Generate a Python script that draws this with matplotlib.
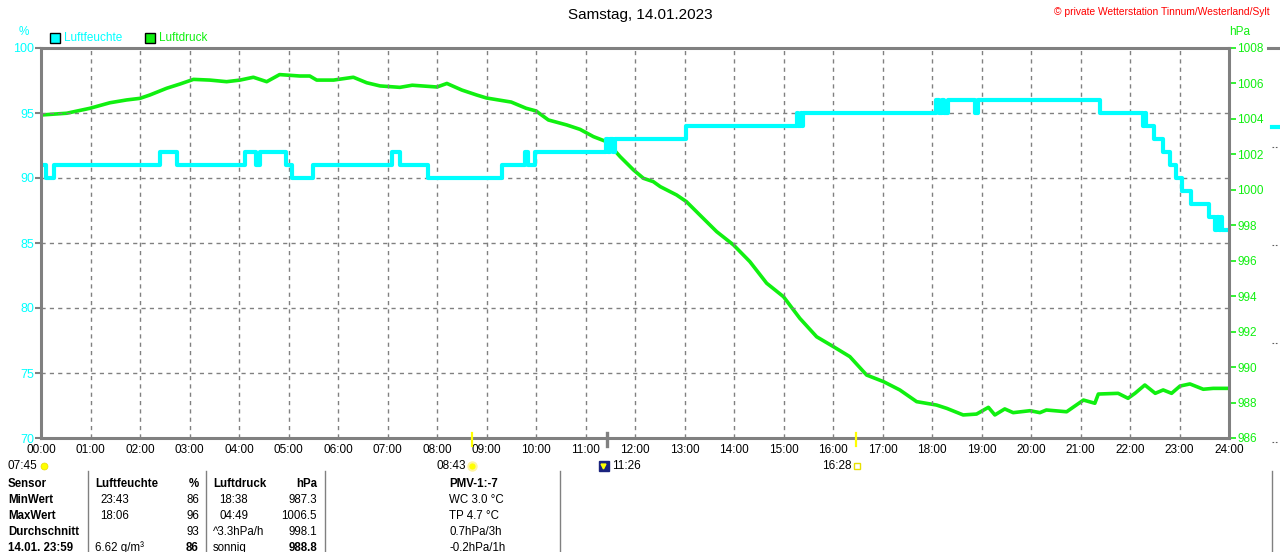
import matplotlib.pyplot as plt
import matplotlib.transforms as mtransforms
from matplotlib.patches import Rectangle
from matplotlib.lines import Line2D

plt.rcParams['font.family'] = ['Liberation Sans', 'DejaVu Sans']

W, H = 1280, 552

# Luftfeuchte in %, Stufenwerte (Stunde, Wert)
hum_t = [0.00, 0.10, 0.26, 2.40, 2.74, 4.12, 4.34, 4.42, 4.95, 5.08, 5.49,
         7.10, 7.25, 7.82, 9.31, 9.78, 9.84, 9.98, 11.41, 11.45, 11.50, 11.55,
         11.60, 13.04, 15.27, 15.30, 15.35, 15.37, 15.39, 18.09, 18.15, 18.20,
         18.25, 18.32, 18.87, 18.93, 21.39, 22.26, 22.30, 22.33, 22.48, 22.66,
         22.81, 22.93, 23.05, 23.23, 23.59, 23.72, 23.76, 23.80, 23.84, 23.86,
         24.00]
hum_v = [91, 90, 91, 92, 91, 92, 91, 92, 91, 90, 91,
         92, 91, 90, 91, 92, 91, 92, 93, 92, 93, 92,
         93, 94, 95, 94, 95, 94, 95, 96, 95, 96,
         95, 96, 95, 96, 95, 94, 95, 94, 93, 92,
         91, 90, 89, 88, 87, 86, 87, 86, 87, 86,
         86]

# Luftdruck in hPa
pres_t = [0.00, 0.52, 0.99, 1.39, 1.73, 2.00, 2.20, 2.54, 2.81, 3.08, 3.41,
          3.75, 4.02, 4.29, 4.56, 4.82, 5.23, 5.43, 5.57, 5.91, 6.31, 6.58,
          6.85, 7.25, 7.50, 8.00, 8.20, 8.50, 8.80, 9.00, 9.50, 9.80, 10.00,
          10.25, 10.62, 10.89, 11.16, 11.43, 11.70, 11.97, 12.17, 12.37, 12.51,
          12.84, 13.04, 13.31, 13.65, 13.99, 14.32, 14.66, 15.00, 15.33, 15.67,
          16.01, 16.34, 16.68, 17.02, 17.35, 17.69, 18.09, 18.30, 18.63, 18.90,
          19.14, 19.27, 19.47, 19.64, 19.98, 20.18, 20.31, 20.72, 21.06, 21.29,
          21.36, 21.76, 21.96, 22.10, 22.30, 22.51, 22.67, 22.84, 23.01, 23.21,
          23.48, 23.68, 24.00]
pres_v = [1004.22, 1004.32, 1004.60, 1004.91, 1005.07, 1005.16, 1005.35,
          1005.73, 1005.97, 1006.23, 1006.19, 1006.10, 1006.19, 1006.35,
          1006.10, 1006.50, 1006.42, 1006.42, 1006.19, 1006.19, 1006.35,
          1006.04, 1005.86, 1005.78, 1005.90, 1005.80, 1006.00, 1005.63,
          1005.35, 1005.18, 1004.95, 1004.60, 1004.45, 1003.94, 1003.66,
          1003.41, 1003.00, 1002.71, 1001.87, 1001.12, 1000.65, 1000.46,
          1000.18, 999.71, 999.33, 998.58, 997.64, 996.89, 995.95, 994.73,
          993.97, 992.75, 991.71, 991.15, 990.59, 989.55, 989.18, 988.71,
          988.05, 987.86, 987.67, 987.30, 987.35, 987.73, 987.30, 987.64,
          987.43, 987.54, 987.43, 987.58, 987.48, 988.14, 987.96, 988.48,
          988.52, 988.24, 988.52, 988.99, 988.52, 988.71, 988.52, 988.93,
          989.05, 988.75, 988.80, 988.80]

hours = list(range(25))
hour_labels = [f"{h:02d}:00" for h in hours]
hum_ticks = [70, 75, 80, 85, 90, 95, 100]
pres_ticks = list(range(986, 1009, 2))

sunrise_lbl = "07:45"
event_t = [8 + 43 / 60, 11 + 26 / 60, 16 + 28 / 60]
event_lbl = ["08:43", "11:26", "16:28"]

# Tabelle unten
row_lbl = ["Sensor", "MinWert", "MaxWert", "Durchschnitt", "14.01. 23:59"]
hum_a = ["Luftfeuchte", "23:43", "18:06", "", "6.62 g/m³"]
hum_b = ["%", "86", "96", "93", "86"]
pres_a = ["Luftdruck", "18:38", "04:49", "^3.3hPa/h", "sonnig"]
pres_b = ["hPa", "987.3", "1006.5", "998.1", "988.8"]
extra = ["PMV-1:-7", "WC 3.0 °C", "TP 4.7 °C", "0.7hPa/3h", "-0.2hPa/1h"]

CYAN = '#00ffff'
GREEN = '#10f010'
GRAY = '#808080'


def fx(px):
    return px / W


def fy(py):
    return 1 - py / H


fig = plt.figure(figsize=(12.8, 5.52), dpi=100)
ax = fig.add_axes([fx(41), fy(438), (1229 - 41) / W, 390 / H])
ax2 = ax.twinx()

ax2.plot(pres_t, pres_v, color=GREEN, lw=2.6, solid_joinstyle='round')
ax.step(hum_t, hum_v, where='post', color=CYAN, lw=3)

ax.set_zorder(ax2.get_zorder() + 1)
ax.patch.set_visible(False)

ax.set_xlim(0, 24)
ax.set_ylim(70, 100)
ax2.set_ylim(986, 1008)
ax.set_xticks(hours)
ax.set_xticklabels(hour_labels)
ax.set_yticks(hum_ticks)
ax2.set_yticks(pres_ticks)

ax.tick_params(axis='x', length=0, pad=4.5, labelsize=8.5, labelcolor='black')
ax.tick_params(axis='y', length=4, width=1.5, color=GRAY, labelcolor=CYAN,
               labelsize=9, pad=1)
ax2.tick_params(axis='y', length=5, width=1.2, color=GREEN, labelcolor=GREEN,
                labelsize=8.5, pad=1)

ax.grid(True, color=GRAY, linestyle=(0, (3, 3)), lw=1)
for s in ax.spines.values():
    s.set_color(GRAY)
    s.set_linewidth(2.2)
for s in ax2.spines.values():
    s.set_visible(False)

# Ereignis-Markierungen unter der Achse
trans = mtransforms.blended_transform_factory(ax.transData, ax.transAxes)
ev_color = ['yellow', GRAY, 'yellow']
ev_lw = [1.6, 2.4, 1.6]
for t, c, w in zip(event_t, ev_color, ev_lw):
    ax.plot([t, t], [0.013, -0.021], transform=trans, color=c, lw=w,
            clip_on=False, zorder=5)

ylab = -0.071


def icon(t, dx, **kw):
    tr = mtransforms.offset_copy(trans, fig=fig, x=dx, y=0, units='dots')
    ax.plot([t], [ylab], transform=tr, clip_on=False, **kw)


def label(t, dx, s, ha):
    tr = mtransforms.offset_copy(trans, fig=fig, x=dx, y=0, units='dots')
    ax.text(t, ylab, s, transform=tr, ha=ha, va='center', fontsize=8.5)


label(0, -4, sunrise_lbl, 'right')
icon(0, 3, marker='o', ms=5, mfc='yellow', mec='#e8d800', mew=0.5)
label(event_t[0], -6, event_lbl[0], 'right')
icon(event_t[0], 0, marker='o', ms=6, mfc='yellow', mec='#fff4a0', mew=1.5)
icon(event_t[1], -3, marker='s', ms=7, mfc='#1a237e', mec='#1a237e')
icon(event_t[1], -4, marker='v', ms=3.5, mfc='yellow', mec='yellow')
label(event_t[1], 5, event_lbl[1], 'left')
label(event_t[2], -5, event_lbl[2], 'right')
icon(event_t[2], 1, marker='s', ms=5, mfc='none', mec='#e8e000', mew=1)

# Kopfzeile
fig.text(fx(640), fy(15), "Samstag, 14.01.2023", ha='center', va='center',
         fontsize=11)
fig.text(fx(1270), fy(12), "© private Wetterstation Tinnum/Westerland/Sylt",
         ha='right', va='center', fontsize=7.4, color='red')
fig.text(fx(24), fy(32), "%", ha='center', va='center', fontsize=8.5,
         color=CYAN)
fig.text(fx(1240), fy(32), "hPa", ha='center', va='center', fontsize=8.5,
         color=GREEN)

# Legende
for x0, col, txt in [(50, CYAN, "Luftfeuchte"), (145, GREEN, "Luftdruck")]:
    fig.patches.append(Rectangle((fx(x0), fy(43)), 10 / W, 10 / H,
                                 transform=fig.transFigure, facecolor=col,
                                 edgecolor='black', lw=1))
    fig.text(fx(x0 + 14), fy(38), txt, ha='left', va='center', fontsize=8.5,
             color=col)

# Dekor am rechten Rand
fig.add_artist(Line2D([fx(1268), fx(1280)], [fy(48), fy(48)], color=GRAY,
                      lw=2.2))
fig.add_artist(Line2D([fx(1272), fx(1280)], [fy(127), fy(127)], color=CYAN,
                      lw=3))
for yy in [147, 245, 343, 442]:
    fig.add_artist(Line2D([fx(1272), fx(1278)], [fy(yy), fy(yy)],
                          color='#606060', lw=0.8, linestyle=(0, (1.5, 1.5))))

# Tabelle
for xx in [88, 206, 325, 560, 1272]:
    fig.add_artist(Line2D([fx(xx), fx(xx)], [fy(471), fy(552)], color=GRAY,
                          lw=1))

row_y = [484, 500, 516, 532, 548]
for i, yy in enumerate(row_y):
    head = i == 0
    last = i == len(row_y) - 1
    fig.text(fx(8), fy(yy), row_lbl[i], ha='left', va='center', fontsize=8.3,
             fontweight='bold')
    fig.text(fx(95 if head or last else 100), fy(yy), hum_a[i], ha='left',
             va='center', fontsize=8.3, fontweight='bold' if head else 'normal')
    fig.text(fx(199), fy(yy), hum_b[i], ha='right', va='center', fontsize=8.3,
             fontweight='bold' if head or last else 'normal')
    fig.text(fx(213 if head or i >= 3 else 219), fy(yy), pres_a[i], ha='left',
             va='center', fontsize=8.3, fontweight='bold' if head else 'normal')
    fig.text(fx(317), fy(yy), pres_b[i], ha='right', va='center', fontsize=8.3,
             fontweight='bold' if head or last else 'normal')
    fig.text(fx(449), fy(yy), extra[i], ha='left', va='center', fontsize=8.3,
             fontweight='bold' if head else 'normal')

fig.savefig("out.png", dpi=100)
